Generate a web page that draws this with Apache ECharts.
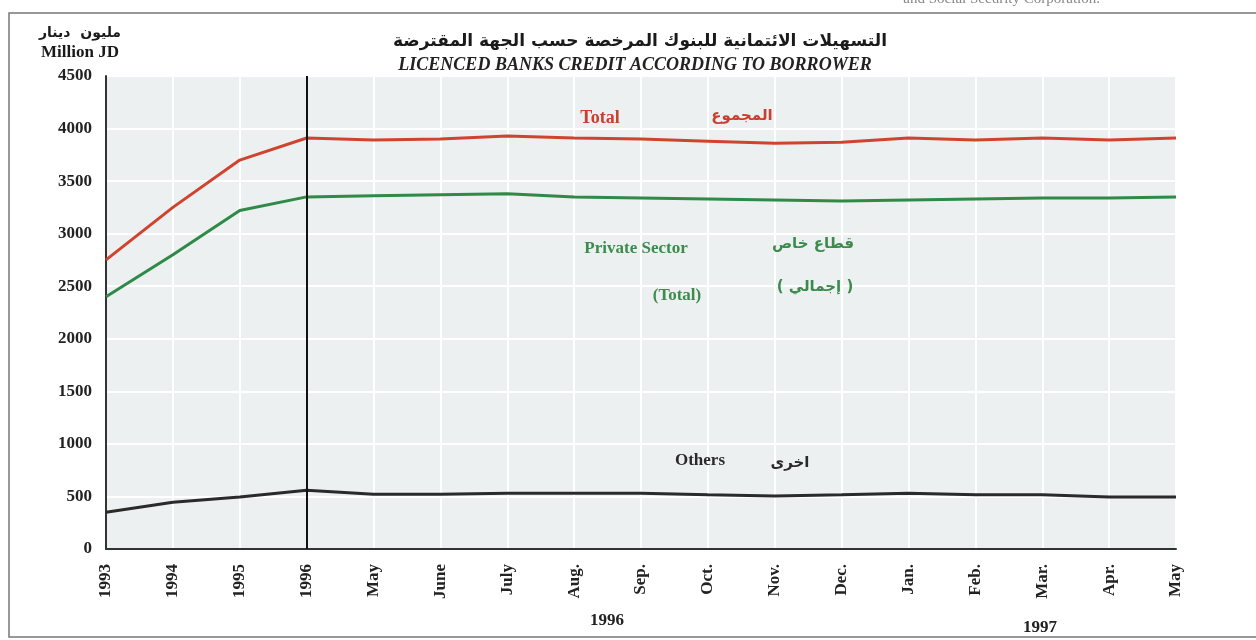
<!DOCTYPE html>
<html>
<head>
<meta charset="utf-8">
<script src="https://cdn.jsdelivr.net/npm/echarts@6/dist/echarts.min.js"></script>
<style>html,body{margin:0;padding:0;background:#fff;}#c{width:1256px;height:640px;}</style>
</head>
<body>
<div id="c"></div>
<script>
const periods = ['1993','1994','1995','1996','1996-05','1996-06','1996-07','1996-08','1996-09','1996-10','1996-11','1996-12','1997-01','1997-02','1997-03','1997-04','1997-05'];
const tickLabels = ['1993','1994','1995','1996','May','June','July','Aug.','Sep.','Oct.','Nov.','Dec.','Jan.','Feb.','Mar.','Apr.','May'];
const totalValues   = [2750, 3250, 3700, 3910, 3890, 3900, 3930, 3910, 3900, 3880, 3860, 3870, 3910, 3890, 3910, 3890, 3910];
const privateValues = [2400, 2800, 3220, 3350, 3360, 3370, 3380, 3350, 3340, 3330, 3320, 3310, 3320, 3330, 3340, 3340, 3350];
const othersValues  = [350, 445, 495, 560, 522, 520, 530, 530, 530, 515, 505, 515, 530, 515, 515, 495, 495];
const yTicks = { min: 0, max: 4500, interval: 500 };

const serif = 'Liberation Serif';
const RED = '#d0442f', GREEN = '#2f8a47', BLACK = '#2a2a2a';

function txt(x, y, text, font, fill, align) {
  return { type: 'text', x: x, y: y, z: 100, silent: true,
    style: { text: text, font: font, fill: fill, textAlign: align || 'center', textVerticalAlign: 'middle' } };
}

const chart = echarts.init(document.getElementById('c'));
chart.setOption({
  backgroundColor: '#ffffff',
  animation: false,
  grid: { left: 106, right: 80, top: 76, bottom: 91, show: true, backgroundColor: '#ecf0f0', borderColor: '#8a8a8a', borderWidth: 1 },
  xAxis: {
    type: 'category', data: periods, boundaryGap: false,
    axisLine: { show: true, lineStyle: { color: '#333', width: 2 } },
    axisTick: { show: false },
    axisLabel: { rotate: 90, margin: 15, color: '#222', fontFamily: serif, fontWeight: 'bold', fontSize: 17,
      formatter: (v, i) => tickLabels[i] },
    splitLine: { show: true, lineStyle: { color: '#ffffff', width: 2 } }
  },
  yAxis: {
    type: 'value', min: yTicks.min, max: yTicks.max, interval: yTicks.interval,
    axisLine: { show: true, lineStyle: { color: '#333', width: 2 } },
    axisTick: { show: false },
    axisLabel: { margin: 14, color: '#222', fontFamily: serif, fontWeight: 'bold', fontSize: 17,
      formatter: v => String(v) },
    splitLine: { show: true, lineStyle: { color: '#ffffff', width: 2 } }
  },
  series: [
    { name: 'Total', type: 'line', data: totalValues, symbol: 'none',
      lineStyle: { color: RED, width: 3 } },
    { name: 'Private Sector', type: 'line', data: privateValues, symbol: 'none',
      lineStyle: { color: GREEN, width: 3 } },
    { name: 'Others', type: 'line', data: othersValues, symbol: 'none',
      lineStyle: { color: BLACK, width: 3 },
      markLine: { silent: true, symbol: 'none', label: { show: false },
        lineStyle: { color: '#111', width: 2, type: 'solid' },
        data: [{ xAxis: 3 }] } }
  ],
  graphic: [
    { type: 'rect', z: 100, silent: true, shape: { x: 9, y: 13, width: 1270, height: 624 }, style: { fill: 'none', stroke: '#777', lineWidth: 1.5 } },
    txt(1100, -1, 'and Social Security Corporation.', '15px "Liberation Serif"', '#888', 'right'),
    txt(640, 42, 'التسهيلات الائتمانية للبنوك المرخصة حسب الجهة المقترضة', 'bold 17px "DejaVu Sans"', '#1a1a1a'),
    txt(635, 65, 'LICENCED BANKS CREDIT ACCORDING TO BORROWER', 'italic bold 18px "Liberation Serif"', '#222'),
    txt(80, 33, 'مليون  دينار', 'bold 14px "DejaVu Sans"', '#1a1a1a'),
    txt(80, 53, 'Million JD', 'bold 17px "Liberation Serif"', '#1a1a1a'),
    txt(600, 118, 'Total', 'bold 18px "Liberation Serif"', '#c8402e'),
    txt(742, 116, 'المجموع', 'bold 15px "DejaVu Sans"', '#c8402e'),
    txt(636, 249, 'Private Sector', 'bold 17px "Liberation Serif"', '#3d8a4d'),
    txt(813, 244, 'قطاع خاص', 'bold 15px "DejaVu Sans"', '#3d8a4d'),
    txt(677, 296, '(Total)', 'bold 17px "Liberation Serif"', '#3d8a4d'),
    txt(815, 287, '( إجمالي )', 'bold 15px "DejaVu Sans"', '#3d8a4d'),
    txt(700, 461, 'Others', 'bold 17px "Liberation Serif"', '#2a2a2a'),
    txt(790, 463, 'اخرى', 'bold 15px "DejaVu Sans"', '#2a2a2a'),
    txt(607, 621, '1996', 'bold 17px "Liberation Serif"', '#222'),
    txt(1040, 628, '1997', 'bold 17px "Liberation Serif"', '#222')
  ]
});
</script>
</body>
</html>
